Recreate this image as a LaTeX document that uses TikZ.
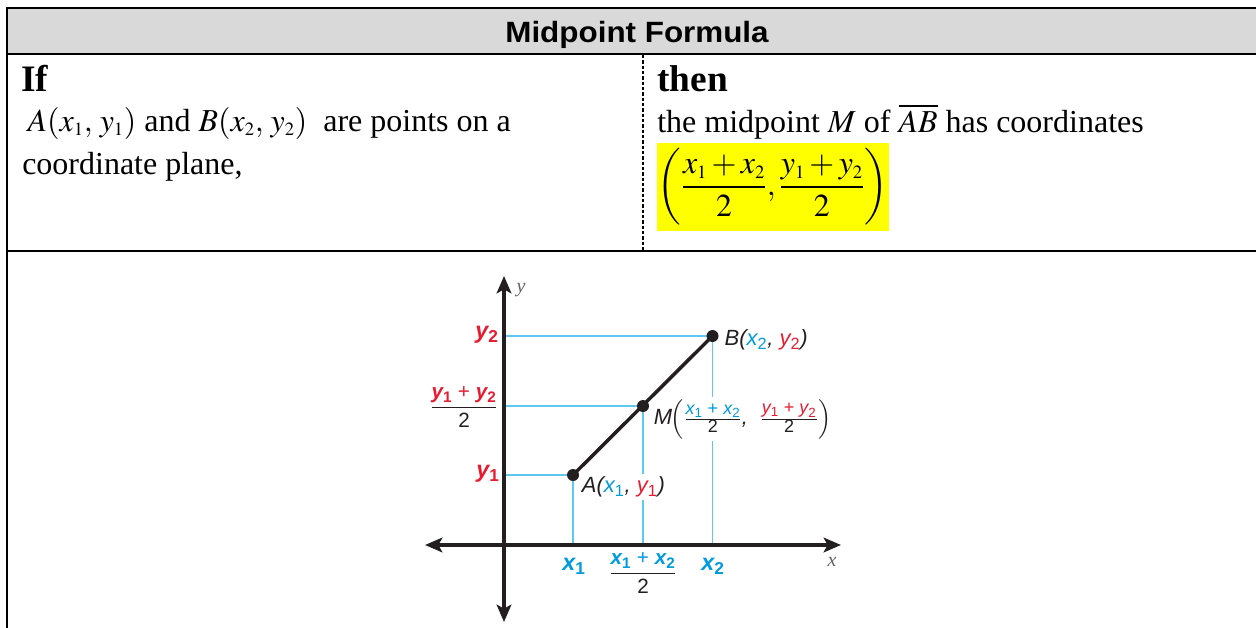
\documentclass[tikz,border=0pt]{standalone}
\usepackage{mathptmx}
\usepackage{fontspec}
\setmainfont{Liberation Serif}
\newfontfamily\hsans{Liberation Sans}
\DeclareMathSizes{24}{24}{14}{10}
\usetikzlibrary{arrows.meta}
\definecolor{hdr}{RGB}{217,217,217}
\definecolor{xblue}{RGB}{0,155,222}
\definecolor{yred}{RGB}{232,28,48}
\definecolor{gline}{RGB}{95,200,240}
\definecolor{ink}{RGB}{35,31,32}
\definecolor{hl}{RGB}{255,255,0}
\newcommand\sbs[1]{\textsubscript{\upshape #1}}
\tikzset{
  tabrule/.style={line width=1.5pt, black},
  dashrule/.style={line width=0.9pt, black, dash pattern=on 2.5pt off 1.5pt},
  axis/.style={line width=2.8pt, ink, {Stealth[length=13pt,width=11pt,inset=3pt]}-{Stealth[length=13pt,width=11pt,inset=3pt]}},
  guide/.style={gline, line width=0.8pt},
  seg/.style={line width=2.6pt, ink},
  dot/.style={circle, fill=ink, inner sep=0pt, minimum size=9pt},
  body/.style={font=\fontsize{24}{28}\selectfont, inner sep=0pt},
  headtxt/.style={font=\fontsize{28}{32}\selectfont\bfseries, inner sep=0pt},
  lbl/.style={font=\hsans\itshape\fontsize{16.5}{18}\selectfont, text=ink, inner sep=1pt},
  axl/.style={font=\hsans\bfseries\itshape\fontsize{17.5}{19}\selectfont, inner sep=0pt},
  axf/.style={font=\hsans\bfseries\itshape\fontsize{15.5}{17}\selectfont, inner sep=0pt},
  axn/.style={font=\itshape\fontsize{15}{16}\selectfont, text=ink!70, inner sep=0pt},
}
\begin{document}
\begin{tikzpicture}[x=0.75pt,y=-0.75pt]
\useasboundingbox (0,0) rectangle (1256,628);
% table
\fill[hdr] (7,8) rectangle (1256,54);
\draw[tabrule] (6.25,7.5) -- (1256,7.5);
\draw[tabrule] (7,7.5) -- (7,628);
\draw[tabrule] (7,54) -- (1256,54);
\draw[tabrule] (7,250.5) -- (1256,250.5);
\draw[dashrule] (643,55) -- (643,249.5);
\node[font=\hsans\bfseries\fontsize{22}{24}\selectfont, xscale=1.07, anchor=base, inner sep=0pt] (title) at (637,42) {Midpoint Formula};
% top row
\node[headtxt, anchor=base west] (iftxt) at (21,91) {If};
\node[body, anchor=base west] (line1) at (22,131) {\,$A(x_1,\,y_1)$ and $B(x_2,\,y_2)$\ \ are points on a};
\node[body, anchor=base west] (line2) at (22,174) {coordinate plane,};
\node[headtxt, anchor=base west] (thentxt) at (657,91) {then};
\node[body, anchor=base west] (line3) at (657,132) {the midpoint $M$ of $\overline{AB}$ has coordinates};
\node[fill=hl, anchor=north west, minimum width=174pt, minimum height=66pt, inner sep=0pt] (fbox) at (657,143) {};
\node[body, anchor=base] (form) at (773,195) {\smash{$\displaystyle\left(\frac{x_1+x_2}{2},\frac{y_1+y_2}{2}\right)$}};
% graph coordinates
\coordinate (yb) at (504,622);
\coordinate (yt) at (504,276);
\coordinate (xl) at (425,545);
\coordinate (xr) at (841,545);
\coordinate (yA) at (504,475);
\coordinate (yM) at (504,406);
\coordinate (yB) at (504,336);
\coordinate (xA) at (573,545);
\coordinate (xM) at (643,545);
\coordinate (xB) at (712.5,545);
\coordinate (A) at (573,475);
\coordinate (M) at (643,406);
\coordinate (B) at (712.5,336);
% guides
\draw[guide] (yB) -- (B) -- (xB);
\draw[guide] (yM) -- (M) -- (xM);
\draw[guide] (yA) -- (A) -- (xA);
% axes
\draw[axis] (yb) -- (yt);
\draw[axis] (xl) -- (xr);
% point labels
\node[lbl, anchor=west] (Blab) at (723,340) {B({\color{xblue}x\sbs{2}}, {\color{yred}y\sbs{2}})};
\node[lbl, anchor=west, fill=white, inner sep=2pt] (Mlab) at (651,419) {M\kern-1pt$\left(\frac{\mbox{\fontsize{13.5}{14}\selectfont\color{xblue}x\sbs{1} \upshape+ \itshape x\sbs{2}}}{\mbox{\fontsize{13.5}{14}\selectfont\upshape 2}}\mbox{,\ \ }\frac{\mbox{\fontsize{13.5}{14}\selectfont\color{yred}y\sbs{1} \upshape+ \itshape y\sbs{2}}}{\mbox{\fontsize{13.5}{14}\selectfont\upshape 2}}\right)$};
\node[lbl, anchor=west, fill=white, inner sep=2pt] (Alab) at (579,487) {A({\color{xblue}x\sbs{1}}, {\color{yred}y\sbs{1}})};
% segment and points
\draw[seg] (A) -- (B);
\node[dot] (Adot) at (A) {};
\node[dot] (Mdot) at (M) {};
\node[dot] (Bdot) at (B) {};
% axis labels
\node[axn] (ylab) at (521,290) {y};
\node[axn] (xlab) at (832,562) {x};
\node[axl, text=yred] (y2lab) at (487,335) {y\sbs{2}};
\node[axl, text=yred] (y1lab) at (488,474) {y\sbs{1}};
\node[axf, text=ink] (ymlab) at (464,407) {$\displaystyle\frac{\mbox{\color{yred}y\sbs{1} \upshape\mdseries+ \bfseries\itshape y\sbs{2}}}{\mbox{\upshape\mdseries 2}}$};
\node[axl, text=xblue] (x1lab) at (574,566) {x\sbs{1}};
\node[axl, text=xblue] (x2lab) at (713,566) {x\sbs{2}};
\node[axf, text=ink] (xmlab) at (643,573) {$\displaystyle\frac{\mbox{\color{xblue}x\sbs{1} \upshape\mdseries+ \bfseries\itshape x\sbs{2}}}{\mbox{\upshape\mdseries 2}}$};
\end{tikzpicture}
\end{document}
